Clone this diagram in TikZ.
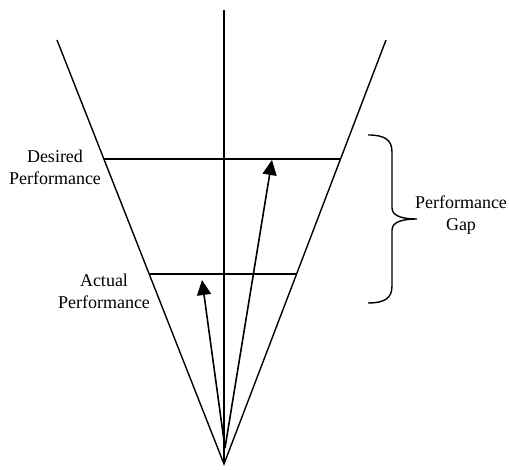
\documentclass[tikz,border=0pt]{standalone}
\usepackage{fontspec}
\setmainfont{Liberation Serif}
\usetikzlibrary{arrows.meta}

\begin{document}
\begin{tikzpicture}[x=1pt, y=1pt,
    % Estilos de las lineas
    edge/.style={line width=1.4pt, draw=black},
    vec/.style={line width=1.6pt, draw=black, -{Triangle[length=15pt, width=14pt]}},
    % Estilo para los textos
    lbl/.style={font=\fontsize{18}{22}\selectfont, text=black, align=center}
]
\useasboundingbox (0,0) rectangle (509,470);

% --- CONE ---
\coordinate (apex) at (224,6);
\coordinate (ltop) at (57,430);
\coordinate (rtop) at (386,430);
\coordinate (vtop) at (224,460);
\draw[edge] (ltop) -- (apex) -- (rtop);
\draw[edge] (vtop) -- (apex);

% --- LEVELS ---
\coordinate (d1) at (104,311);
\coordinate (d2) at (340,311);
\coordinate (a1) at (150,196);
\coordinate (a2) at (297,196);
\draw[edge] (d1) -- (d2);
\draw[edge] (a1) -- (a2);
\node[lbl] (desired) at (55,303) {Desired\\Performance};
\node[lbl] (actual) at (104,179) {Actual\\Performance};

% --- ARROWS ---
\coordinate (base) at (225,22);
\coordinate (dtip) at (272,310);
\coordinate (atip) at (202,190);
\draw[vec] (base) -- (dtip);
\draw[vec] (base) -- (atip);

% --- GAP ---
\draw[edge] (368,335) .. controls (385,335) and (392,330) .. (392,318)
  -- (392,262) .. controls (392,253) and (405,251) .. (417,251)
  .. controls (405,251) and (392,249) .. (392,240)
  -- (392,184) .. controls (392,172) and (385,167) .. (368,167);
\node[lbl] (gap) at (461,255) {Performance\\Gap};

\end{tikzpicture}
\end{document}
